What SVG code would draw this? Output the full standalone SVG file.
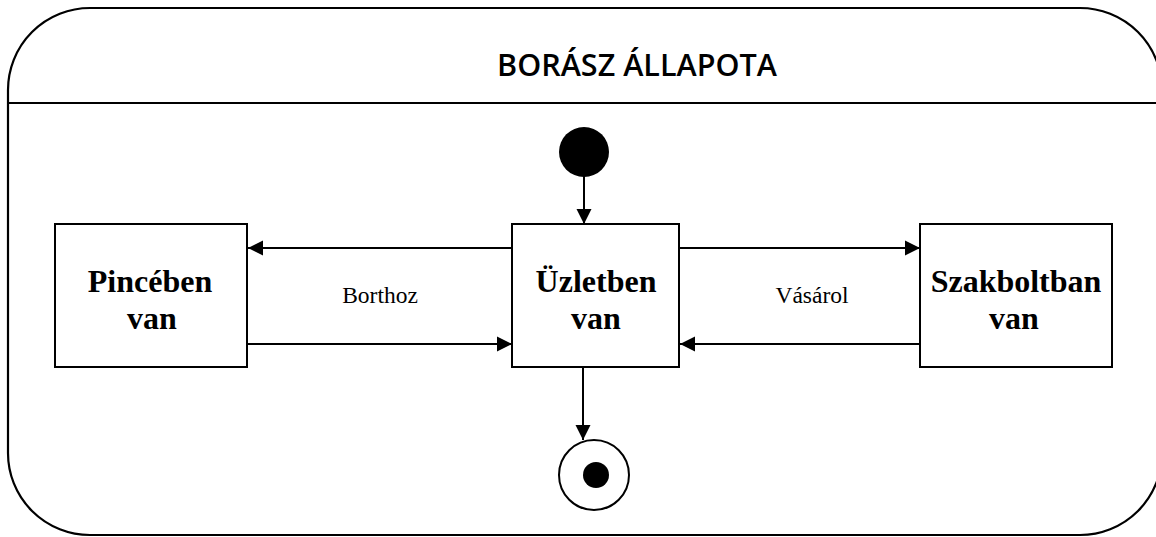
<svg xmlns="http://www.w3.org/2000/svg" width="1156" height="537" viewBox="0 0 1156 537">
  <style>
    .frame { fill: none; stroke: #000; stroke-width: 2.2; }
    .box { fill: #fff; stroke: #000; stroke-width: 2; }
    .edge { fill: none; stroke: #000; stroke-width: 2; }
    .title { font-family: "Open Sans", "DejaVu Sans", sans-serif; font-size: 30px; font-weight: 600; fill: #000; }
    .name { font-family: "Liberation Serif", "Times New Roman", serif; font-size: 32px; font-weight: bold; fill: #000; text-anchor: middle; }
    .label { font-family: "Liberation Serif", "Times New Roman", serif; font-size: 23.5px; fill: #000; text-anchor: middle; }
  </style>
  <defs>
    <marker id="arrow" markerUnits="userSpaceOnUse" markerWidth="16" markerHeight="16" viewBox="0 0 16 16" refX="15" refY="8" orient="auto">
      <path d="M0,0.5 L15,8 L0,15.5 Z" fill="#000"/>
    </marker>
  </defs>

  <!-- composite state frame with its name compartment -->
  <g id="frame">
    <rect class="frame" x="8" y="8" width="1154" height="527" rx="82" ry="82"/>
    <line class="frame" x1="8" y1="103" x2="1162" y2="103"/>
    <text class="title" x="497" y="76" textLength="280" lengthAdjust="spacingAndGlyphs">BORÁSZ ÁLLAPOTA</text>
  </g>

  <!-- transitions -->
  <g id="connectors">
    <line class="edge" x1="584" y1="176" x2="584" y2="224" marker-end="url(#arrow)"/>
    <line class="edge" x1="512" y1="248" x2="248" y2="248" marker-end="url(#arrow)"/>
    <line class="edge" x1="247" y1="344" x2="512" y2="344" marker-end="url(#arrow)"/>
    <line class="edge" x1="679" y1="248" x2="920" y2="248" marker-end="url(#arrow)"/>
    <line class="edge" x1="920" y1="344" x2="680" y2="344" marker-end="url(#arrow)"/>
    <line class="edge" x1="583" y1="367" x2="583" y2="440" marker-end="url(#arrow)"/>
    <text class="label" x="380" y="303">Borthoz</text>
    <text class="label" x="812" y="303">Vásárol</text>
  </g>

  <g id="initial">
    <circle cx="584" cy="152" r="25" fill="#000"/>
  </g>

  <g id="pinceben">
    <rect class="box" x="55" y="224" width="192" height="143"/>
    <text class="name" x="150" y="292">Pincében</text>
    <text class="name" x="152" y="329">van</text>
  </g>

  <g id="uzletben">
    <rect class="box" x="512" y="224" width="167" height="143"/>
    <text class="name" x="596" y="292">Üzletben</text>
    <text class="name" x="596" y="329">van</text>
  </g>

  <g id="szakboltban">
    <rect class="box" x="920" y="224" width="192" height="143"/>
    <text class="name" x="1016" y="292">Szakboltban</text>
    <text class="name" x="1014" y="329">van</text>
  </g>

  <g id="final">
    <circle cx="594" cy="475" r="35" fill="#fff" stroke="#000" stroke-width="2"/>
    <circle cx="596" cy="475" r="13" fill="#000"/>
  </g>
</svg>
